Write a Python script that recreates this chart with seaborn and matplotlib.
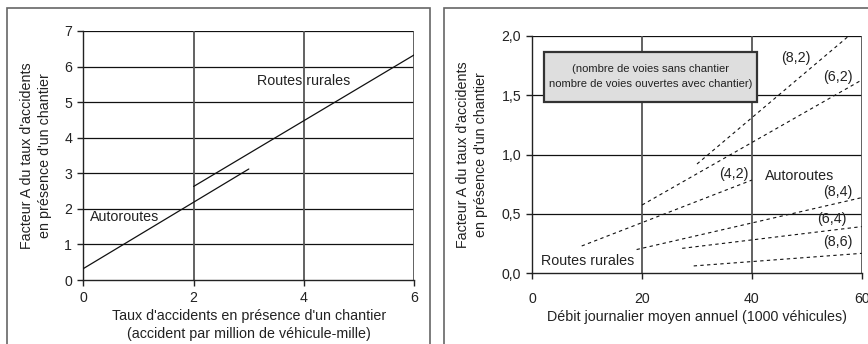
import matplotlib
matplotlib.use("Agg")
import matplotlib.pyplot as plt
from matplotlib.patches import Rectangle
import pandas as pd
import seaborn as sns

# Left panel: factor A versus work-zone accident rate
left_series = ["Autoroutes", "Routes rurales"]
left_x = [[0, 3], [2, 6]]
left_y = [[0.32, 3.12], [2.63, 6.33]]
left_xticks = [0, 2, 4, 6]
left_yticks = [0, 1, 2, 3, 4, 5, 6, 7]

# Right panel: factor A versus AADT, by lane configuration
lane_labels = ["(8,2)", "(6,2)", "(4,2)", "(8,4)", "(6,4)", "(8,6)"]
lane_x0 = [30, 20, 9, 19, 27.3, 29.4]
lane_x1 = [57.7, 60, 40, 60, 60, 60]
lane_y0 = [0.92, 0.575, 0.23, 0.20, 0.21, 0.062]
lane_y1 = [2.0, 1.627, 0.785, 0.637, 0.393, 0.168]
right_xticks = [0, 20, 40, 60]
right_yticks = [0.0, 0.5, 1.0, 1.5, 2.0]
right_ytick_labels = ["0,0", "0,5", "1,0", "1,5", "2,0"]

sns.set_theme(style="white")
plt.rcParams["font.family"] = ["Liberation Sans", "DejaVu Sans"]
plt.rcParams["text.color"] = "#222222"
plt.rcParams["axes.labelcolor"] = "#222222"
plt.rcParams["xtick.color"] = "#222222"
plt.rcParams["ytick.color"] = "#222222"

INK = "#222222"
FS = 10.3
TFS = 10.2

fig = plt.figure(figsize=(8.68, 3.44), dpi=100)

# panel frames
for x0, x1 in [(7, 430), (444, 880)]:
    fig.patches.append(Rectangle((x0 / 868, -0.1), (x1 - x0) / 868, 1.1 - 8 / 344,
                                 transform=fig.transFigure, fill=False,
                                 edgecolor="#666666", lw=1.2, zorder=0))

def style_axes(ax, xticks, yticks, xpad):
    ax.set_xticks(xticks)
    ax.set_yticks(yticks)
    ax.tick_params(axis="both", which="both", direction="out", length=4, width=1,
                   color=INK, labelsize=TFS, pad=4, left=True, bottom=True)
    ax.tick_params(axis="x", pad=xpad)
    for side in ["top", "right"]:
        ax.spines[side].set_visible(False)
    for side in ["left", "bottom"]:
        ax.spines[side].set_color(INK)
        ax.spines[side].set_linewidth(1.0)
    for y in yticks[1:]:
        ax.axhline(y, color="#111111", lw=0.9, zorder=1)
    for x in xticks[1:]:
        ax.axvline(x, color="#555555", lw=1.3, zorder=1)
    ax.set_facecolor("white")

# ---- left panel
axL = fig.add_axes([83.3 / 868, 1 - 280 / 344, 331 / 868, 249 / 344])
rows = []
for name, xs, ys in zip(left_series, left_x, left_y):
    for x, y in zip(xs, ys):
        rows.append({"serie": name, "x": x, "y": y})
dfL = pd.DataFrame(rows)
sns.lineplot(data=dfL, x="x", y="y", units="serie", estimator=None, ax=axL,
             color="#111111", lw=0.9, legend=False, zorder=3)
axL.set_xlim(0, 6)
axL.set_ylim(0, 7)
style_axes(axL, left_xticks, left_yticks, 4)
axL.set_xlabel("Taux d'accidents en présence d'un chantier\n(accident par million de véhicule-mille)",
               fontsize=FS, labelpad=3, linespacing=1.3)
axL.set_ylabel("Facteur A du taux d'accidents\nen présence d'un chantier",
               fontsize=FS, labelpad=9, linespacing=1.3)
axL.text(3.99, 5.6, "Routes rurales", fontsize=FS, ha="center", va="center")
axL.text(0.74, 1.76, "Autoroutes", fontsize=FS, ha="center", va="center")

# ---- right panel
axR = fig.add_axes([532.3 / 868, 1 - 273.3 / 344, 329.4 / 868, 237.6 / 344])
rows = []
for name, xa, xb, ya, yb in zip(lane_labels, lane_x0, lane_x1, lane_y0, lane_y1):
    rows.append({"config": name, "x": xa, "y": ya})
    rows.append({"config": name, "x": xb, "y": yb})
dfR = pd.DataFrame(rows)
sns.lineplot(data=dfR, x="x", y="y", units="config", estimator=None, ax=axR,
             color="#111111", lw=0.8, dashes=False, legend=False, zorder=3)
for line in axR.get_lines():
    line.set_dashes((3, 3))
axR.set_xlim(0, 60)
axR.set_ylim(0, 2.0)
style_axes(axR, right_xticks, right_yticks, 9.5)
axR.set_yticklabels(right_ytick_labels)
axR.set_xlabel("Débit journalier moyen annuel (1000 véhicules)", fontsize=FS, labelpad=3)
axR.set_ylabel("Facteur A du taux d'accidents\nen présence d'un chantier",
               fontsize=FS, labelpad=10, linespacing=1.3)

label_pos = {"(8,2)": (48.0, 1.81), "(6,2)": (55.6, 1.65), "(4,2)": (36.7, 0.84),
             "(8,4)": (55.6, 0.687), "(6,4)": (54.6, 0.454), "(8,6)": (55.6, 0.26)}
for name in lane_labels:
    lx, ly = label_pos[name]
    axR.text(lx, ly, name, fontsize=FS, ha="center", va="center", zorder=4)
axR.text(48.6, 0.82, "Autoroutes", fontsize=FS, ha="center", va="center", zorder=4)
axR.text(10.1, 0.107, "Routes rurales", fontsize=FS, ha="center", va="center", zorder=4)

axR.add_patch(Rectangle((2.1, 1.445), 38.9, 0.42, facecolor="#dedede",
                        edgecolor="#333333", lw=1.6, zorder=5))
axR.text(21.55, 1.655, "(nombre de voies sans chantier\nnombre de voies ouvertes avec chantier)",
         fontsize=8.1, ha="center", va="center", linespacing=1.6, zorder=6)

fig.savefig("out.png", dpi=100)
